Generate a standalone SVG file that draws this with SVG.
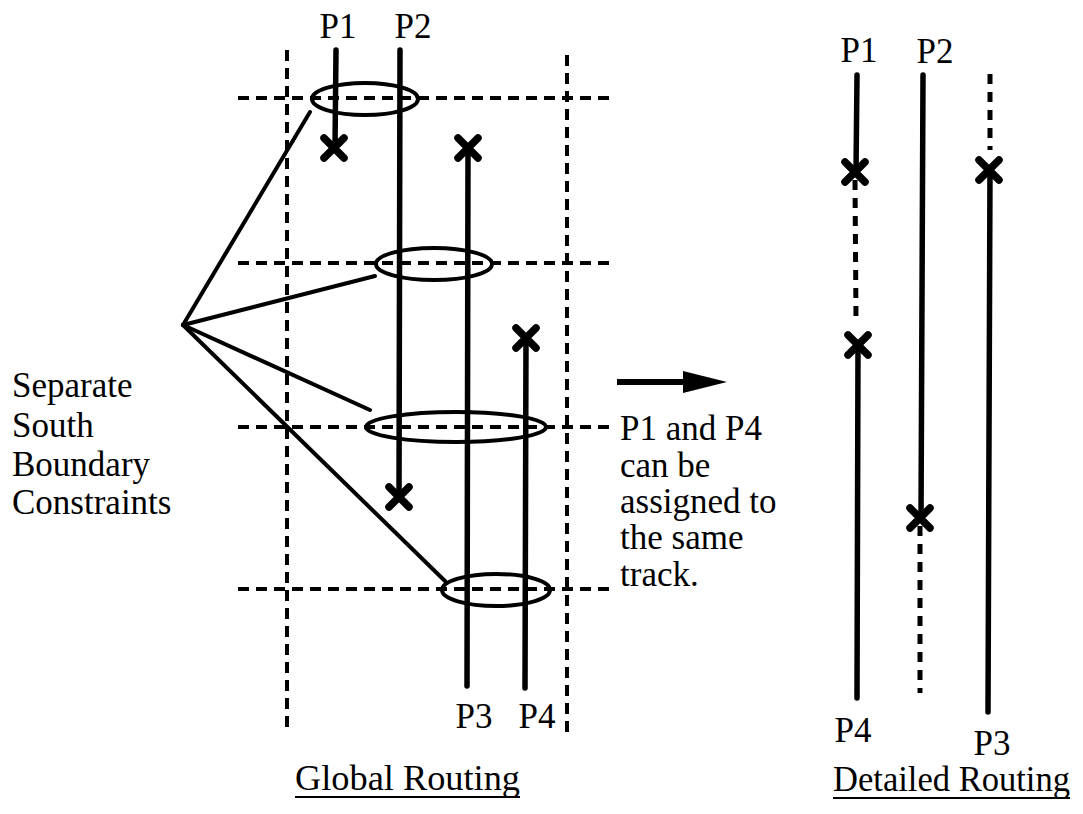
<svg xmlns="http://www.w3.org/2000/svg" width="1083" height="814" viewBox="0 0 1083 814">
  <style>
    .grid { stroke: #000; stroke-width: 4; stroke-dasharray: 11 7; fill: none; }
    .wire { stroke: #000; stroke-width: 5.5; stroke-linecap: round; fill: none; }
    .dwire { stroke: #000; stroke-width: 5; stroke-dasharray: 10 8; fill: none; }
    .ring { stroke: #000; stroke-width: 4; fill: none; }
    .lead { stroke: #000; stroke-width: 4; stroke-linecap: round; fill: none; }
    .ul { stroke: #000; stroke-width: 2; }
  </style>
  <defs>
    <g id="xmark">
      <path d="M-10,-10 L10,10 M10,-10 L-10,10" stroke="#000" stroke-width="7.5" stroke-linecap="round"/>
    </g>
  </defs>
  <rect width="1083" height="814" fill="#fff"/>

  <g font-family="Liberation Serif, serif" font-size="35" fill="#000">
  <!-- global routing grid -->
  <g id="grid">
    <line class="grid" x1="287" y1="50" x2="287" y2="728"/>
    <line class="grid" x1="567" y1="55" x2="567" y2="732"/>
    <line class="grid" x1="238" y1="98" x2="615" y2="98"/>
    <line class="grid" x1="238" y1="263" x2="613" y2="263"/>
    <line class="grid" x1="238" y1="427" x2="613" y2="427"/>
    <line class="grid" x1="238" y1="589" x2="612" y2="589"/>
  </g>

  <!-- global routing nets -->
  <g id="net-p1">
    <line class="wire" x1="336" y1="50" x2="335" y2="148"/>
    <use href="#xmark" x="334" y="148"/>
    <text x="338" y="38" text-anchor="middle">P1</text>
  </g>
  <g id="net-p2">
    <line class="wire" x1="400" y1="50" x2="399" y2="497"/>
    <use href="#xmark" x="399" y="497"/>
    <text x="413" y="38" text-anchor="middle">P2</text>
  </g>
  <g id="net-p3">
    <line class="wire" x1="468" y1="148" x2="467" y2="686"/>
    <use href="#xmark" x="468" y="148"/>
    <text x="474" y="728" text-anchor="middle">P3</text>
  </g>
  <g id="net-p4">
    <line class="wire" x1="526" y1="338" x2="525" y2="688"/>
    <use href="#xmark" x="526" y="338"/>
    <text x="537" y="728" text-anchor="middle">P4</text>
  </g>

  <!-- south boundary constraint rings -->
  <g id="rings">
    <ellipse class="ring" cx="365" cy="99" rx="53" ry="16"/>
    <ellipse class="ring" cx="434" cy="264" rx="58" ry="16"/>
    <ellipse class="ring" cx="456" cy="427" rx="90" ry="15"/>
    <ellipse class="ring" cx="496" cy="590" rx="54" ry="16"/>
  </g>

  <!-- connectors -->
  <g id="connectors">
    <line class="lead" x1="183" y1="325" x2="310" y2="112"/>
    <line class="lead" x1="183" y1="325" x2="375" y2="276"/>
    <line class="lead" x1="183" y1="325" x2="370" y2="410"/>
    <line class="lead" x1="183" y1="325" x2="445" y2="581"/>
    <line x1="617" y1="382" x2="686" y2="382" stroke="#000" stroke-width="6"/>
    <polygon points="683,371 727,382 683,393" fill="#000"/>
  </g>

  <g id="label-constraints">
    <text x="12" y="397">Separate</text>
    <text x="12" y="437">South</text>
    <text x="12" y="476">Boundary</text>
    <text x="12" y="514">Constraints</text>
  </g>

  <g id="label-note">
    <text x="620" y="440">P1 and P4</text>
    <text x="620" y="477">can be</text>
    <text x="620" y="513">assigned to</text>
    <text x="620" y="549">the same</text>
    <text x="620" y="586">track.</text>
  </g>

  <g id="title-global">
    <text x="295" y="790" textLength="225" lengthAdjust="spacingAndGlyphs">Global Routing</text>
    <line class="ul" x1="295" y1="797" x2="520" y2="797"/>
  </g>

  <!-- detailed routing tracks -->
  <g id="track-1">
    <line class="wire" x1="857" y1="75" x2="856" y2="172"/>
    <line class="dwire" x1="855" y1="180" x2="856" y2="320"/>
    <use href="#xmark" x="855" y="172"/>
    <use href="#xmark" x="858" y="345"/>
    <line class="wire" x1="858" y1="345" x2="857" y2="698"/>
    <text x="859" y="62" text-anchor="middle">P1</text>
    <text x="853" y="742" text-anchor="middle">P4</text>
  </g>
  <g id="track-2">
    <line class="wire" x1="923" y1="75" x2="921" y2="518"/>
    <line class="dwire" x1="920" y1="526" x2="920" y2="693"/>
    <use href="#xmark" x="920" y="518"/>
    <text x="935" y="63" text-anchor="middle">P2</text>
  </g>
  <g id="track-3">
    <line class="dwire" x1="990" y1="74" x2="990" y2="150"/>
    <use href="#xmark" x="989" y="170"/>
    <line class="wire" x1="990" y1="170" x2="988" y2="712"/>
    <text x="992" y="755" text-anchor="middle">P3</text>
  </g>

  <g id="title-detailed">
    <text x="833" y="791" textLength="237" lengthAdjust="spacingAndGlyphs">Detailed Routing</text>
    <line class="ul" x1="833" y1="798" x2="1070" y2="798"/>
  </g>
  </g>
</svg>
